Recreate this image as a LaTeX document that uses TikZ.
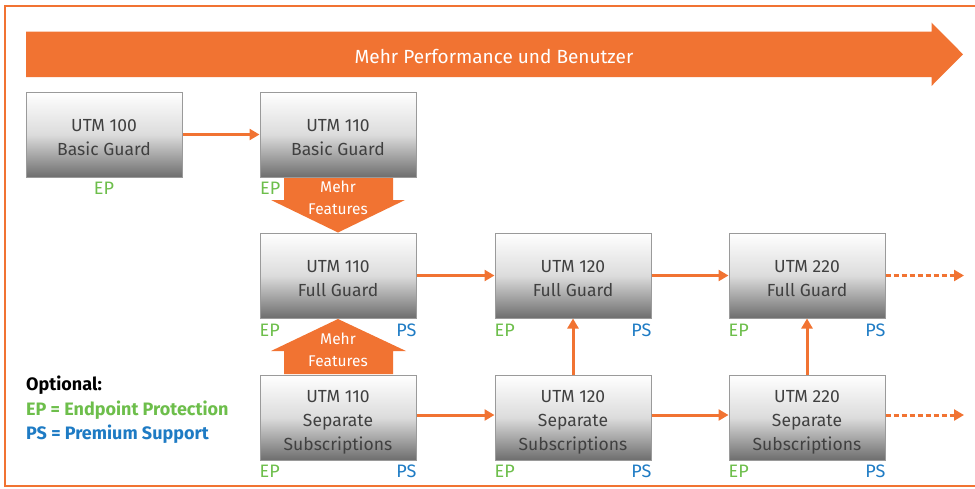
\documentclass[tikz,border=0pt]{standalone}
\usepackage{fontspec}
\setmainfont{Fira Sans}
\usetikzlibrary{arrows.meta,calc}
\definecolor{sorange}{HTML}{F17332}
\definecolor{sgreen}{HTML}{6DBE4B}
\definecolor{sblue}{HTML}{1E7BC4}
\definecolor{sbord}{HTML}{9A9A9A}
\definecolor{stext}{HTML}{404040}
\definecolor{sbot}{HTML}{6E6E6E}
\definecolor{smid}{HTML}{DCDCDC}
\tikzset{
  prod/.style={draw=sbord, line width=1pt, minimum width=156pt, minimum height=85pt,
    inner sep=0pt, top color=white, bottom color=sbot, middle color=smid},
  boxtxt/.style={text=stext, align=center, inner sep=0pt, font=\fontsize{17.5}{24}\selectfont},
  conn/.style={draw=sorange, line width=3pt, -{Triangle[length=10pt,width=11pt]}},
  dotconn/.style={draw=sorange, line width=3pt, dash pattern=on 5pt off 3pt, -{Triangle[length=10pt,width=11pt]}},
  eplab/.style={text=sgreen, font=\fontsize{18}{20}\selectfont, inner sep=0pt},
  pslab/.style={text=sblue, font=\fontsize{18}{20}\selectfont, inner sep=0pt},
  feat/.style={text=white, align=center, font=\fontsize{15.5}{22}\selectfont, inner sep=0pt},
  leg/.style={anchor=west, inner sep=0pt, font=\bfseries\fontsize{18}{20}\selectfont},
}
\newcommand{\prodbox}[4]{%
  \node[prod] (#1) at (#2) {};
  \node[boxtxt] (#1-t) at ($(#1)+(0,#3)$) {#4};}
\begin{document}
\begin{tikzpicture}[x=1pt,y=-1pt]
\useasboundingbox (0,0) rectangle (975,488);
% frame
\draw[sorange, line width=2.5pt] (975,6) -- (5,6) -- (5,486) -- (975,486);
% big arrow
\fill[sorange] (26,31.5) -- (931.5,31.5) -- (931.5,22.5) -- (963,54.3) -- (931.5,86) -- (931.5,77) -- (26,77) -- cycle;
\node[text=white, font=\fontsize{19}{22}\selectfont, inner sep=0pt] (title) at (494,56) {Mehr Performance und Benutzer};

% boxes
\prodbox{u100}{104,134.5}{3}{UTM 100\\Basic Guard}
\prodbox{u110b}{338,134.5}{3}{UTM 110\\Basic Guard}
\prodbox{f110}{338,275.5}{3}{UTM 110\\Full Guard}
\prodbox{f120}{573,275.5}{3}{UTM 120\\Full Guard}
\prodbox{f220}{807,275.5}{3}{UTM 220\\Full Guard}

% feature arrows
\fill[sorange] (284,178) -- (393,178) -- (393,200) -- (405,200) -- (338,232.5) -- (271,200) -- (284,200) -- cycle;
\node[feat] (mf1) at (338,198) {Mehr\\Features};
\fill[sorange] (284,374) -- (393,374) -- (393,351) -- (406,351) -- (338,319) -- (271,351) -- (284,351) -- cycle;
\node[feat] (mf2) at (338,350) {Mehr\\Features};

\prodbox{s110}{338,417.5}{4.5}{UTM 110\\Separate\\Subscriptions}
\prodbox{s120}{573,417.5}{4.5}{UTM 120\\Separate\\Subscriptions}
\prodbox{s220}{807,417.5}{4.5}{UTM 220\\Separate\\Subscriptions}

% EP / PS labels
\node[eplab] (ep100) at (104,188) {EP};
\node[eplab, anchor=west] (ep110b) at (260,188) {EP};
\foreach \n in {f110,f120,f220}{
  \node[eplab, anchor=west] (ep\n) at ($(\n.south west)+(0,12)$) {EP};
  \node[pslab, anchor=east] (ps\n) at ($(\n.south east)+(0,12)$) {PS};
}
\foreach \n in {s110,s120,s220}{
  \node[eplab, anchor=west] (ep\n) at ($(\n.south west)+(0,11)$) {EP};
  \node[pslab, anchor=east] (ps\n) at ($(\n.south east)+(0,11)$) {PS};
}

% connectors
\draw[conn] (u100) -- (u110b);
\draw[conn] (f110) -- (f120);
\draw[conn] (f120) -- (f220);
\draw[conn] (s110.east |- 0,415) -- (s120.west |- 0,415);
\draw[conn] (s120.east |- 0,415) -- (s220.west |- 0,415);
\draw[conn] (s120) -- (f120);
\draw[conn] (s220) -- (f220);
\coordinate (e1) at (964,275.5);
\coordinate (e2) at (964,415);
\draw[dotconn] (f220.east) -- (e1);
\draw[dotconn] (s220.east |- e2) -- (e2);

% legend
\node[leg, text=black] (l1) at (26,385) {Optional:};
\node[leg, text=sgreen] (l2) at (26,410) {EP = Endpoint Protection};
\node[leg, text=sblue] (l3) at (26,434) {PS = Premium Support};
\end{tikzpicture}
\end{document}
